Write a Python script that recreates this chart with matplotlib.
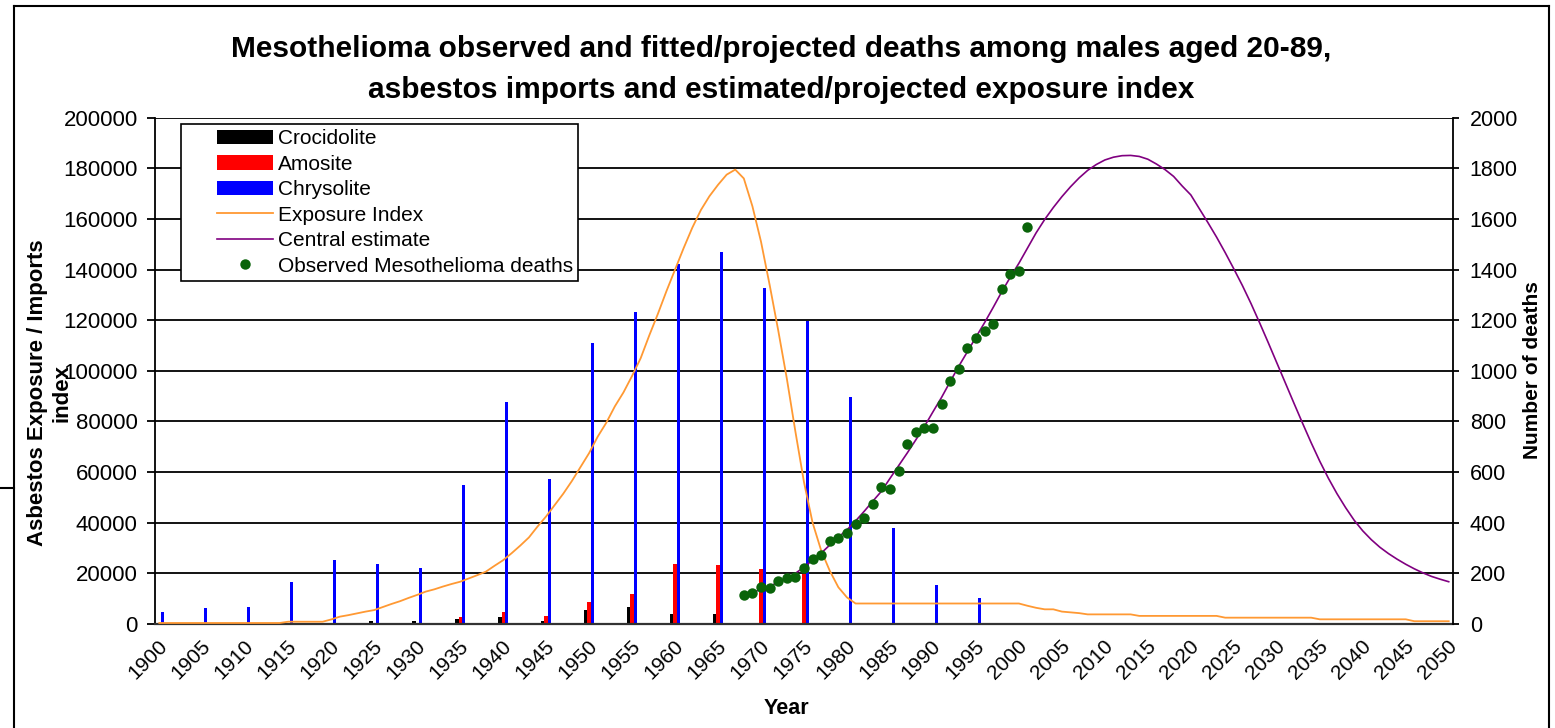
import numpy as np
import matplotlib
matplotlib.use("Agg")
import matplotlib.pyplot as plt
import matplotlib.transforms as mtransforms
from matplotlib.lines import Line2D
from matplotlib.patches import Patch
from matplotlib.legend_handler import HandlerPatch, HandlerLine2D

plt.rcParams["font.family"] = ["Liberation Sans", "DejaVu Sans"]

# ---- data ----
YEARS = list(range(1900, 2051))
BAR_YEARS = [1900, 1905, 1910, 1915, 1920, 1925, 1930, 1935, 1940, 1945,
             1950, 1955, 1960, 1965, 1970, 1975, 1980, 1985, 1990, 1995]
CROCIDOLITE = [0, 0, 0, 0, 500, 1200, 1200, 1800, 2600, 1300,
               5500, 6800, 4000, 3900, 500, 0, 0, 0, 0, 0]
AMOSITE = [0, 0, 0, 0, 500, 500, 500, 2600, 4600, 3300,
           8800, 12000, 23800, 23200, 21600, 19900, 0, 0, 0, 0]
CHRYSOLITE = [4600, 6200, 6800, 16400, 25100, 23800, 22300, 55000, 87700, 57200,
              111000, 123300, 142200, 147000, 132600, 119500, 89700, 38000, 15600, 10100]

EXPOSURE_INDEX = [
    # 1900-1919
    400, 400, 400, 400, 400, 400, 400, 400, 400, 400,
    400, 400, 400, 400, 400, 900, 900, 900, 900, 900,
    # 1920-1939
    1800, 2900, 3500, 4200, 4900, 5500, 6700, 7900, 9000, 10300,
    11500, 12800, 13700, 14800, 15800, 16700, 18000, 19300, 20700, 23000,
    # 1940-1959
    25200, 28000, 31000, 34200, 38500, 42500, 47000, 51500, 56500, 62000,
    67500, 74000, 79500, 86000, 91500, 98000, 105000, 114000, 122500, 131500,
    # 1960-1979
    140000, 148500, 156500, 163500, 169000, 173500, 177500, 179500, 176000, 165000,
    151000, 134000, 116000, 97000, 76000, 56000, 40000, 29000, 21000, 14500,
    # 1980-1999
    10500, 8100, 8100, 8100, 8100, 8100, 8100, 8100, 8100, 8100,
    8100, 8100, 8100, 8100, 8100, 8100, 8100, 8100, 8100, 8100,
    # 2000-2019
    8100, 7200, 6400, 5800, 5800, 4900, 4600, 4300, 3800, 3800,
    3800, 3800, 3800, 3800, 3200, 3200, 3200, 3200, 3200, 3200,
    # 2020-2039
    3200, 3200, 3200, 3200, 2500, 2500, 2500, 2500, 2500, 2500,
    2500, 2500, 2500, 2500, 2500, 1850, 1850, 1850, 1850, 1850,
    # 2040-2050
    1850, 1850, 1850, 1850, 1850, 1850, 1100, 1100, 1100, 1100, 1100,
]

CENTRAL_YEARS = list(range(1968, 2051))
CENTRAL_ESTIMATE = [
    112, 124, 137, 150, 164, 180, 200, 225, 252, 280,            # 1968-1977
    312, 343, 372, 407, 445, 485, 524, 575, 625, 675,            # 1978-1987
    727, 780, 838, 895, 957, 1018, 1075, 1133, 1190, 1250,       # 1988-1997
    1312, 1370, 1425, 1485, 1545, 1598, 1645, 1688, 1727, 1762,  # 1998-2007
    1792, 1815, 1833, 1844, 1850, 1851, 1847, 1836, 1817, 1795,  # 2008-2017
    1768, 1730, 1695, 1640, 1585, 1528, 1467, 1403, 1337, 1266,  # 2018-2027
    1190, 1112, 1032, 952, 872, 793, 716, 643, 576, 515,         # 2028-2037
    460, 410, 368, 333, 303, 278, 256, 236, 218, 202,            # 2038-2047
    188, 177, 167,                                               # 2048-2050
]

OBS_YEARS = list(range(1968, 2002))
OBSERVED = [115, 124, 148, 144, 170, 183, 187, 222, 255, 272,
            329, 341, 358, 394, 417, 476, 543, 532, 605, 710,
            757, 773, 775, 871, 960, 1006, 1091, 1128, 1159, 1187,
            1323, 1382, 1395, 1567]

ORANGE = "#ff9933"
PURPLE = "#800080"
GREEN = "#0a640a"

W, H = 1555, 728
fig = plt.figure(figsize=(W / 100, H / 100), dpi=100)
fig.patch.set_facecolor("white")
ax = fig.add_axes([155 / W, (H - 624) / H, 1298 / W, 506.3 / H])
ax2 = ax.twinx()

# ---- bars ----
bw = 0.38
bx = np.array(BAR_YEARS, dtype=float)
ax.bar(bx - bw, CROCIDOLITE, width=bw, color="black", zorder=2)
ax.bar(bx, AMOSITE, width=bw, color="#ff0000", zorder=2)
ax.bar(bx + bw, CHRYSOLITE, width=bw, color="#0000ff", zorder=2)

ax.plot(YEARS, EXPOSURE_INDEX, color=ORANGE, lw=1.3, zorder=3)
ax2.plot(CENTRAL_YEARS, CENTRAL_ESTIMATE, color=PURPLE, lw=1.2, zorder=3)
ax2.plot(OBS_YEARS, OBSERVED, "o", color=GREEN, ms=7.5, mew=0, zorder=4)

# ---- axes ----
ax.set_xlim(1899.5, 2050.5)
ax.set_ylim(0, 200000)
ax2.set_ylim(0, 2000)
lt = list(range(0, 200001, 20000))
rt = list(range(0, 2001, 200))
ax.set_yticks(lt)
ax.set_yticklabels([str(v) for v in lt])
ax2.set_yticks(rt)
ax2.set_yticklabels([str(v) for v in rt])
ax.yaxis.grid(True, color="black", lw=1.3)
ax.set_axisbelow(True)

xt = list(range(1900, 2051, 5))
ax.set_xticks(xt)
ax.set_xticklabels([str(v) for v in xt], rotation=45, ha="right",
                   rotation_mode="anchor", va="center")
ax.tick_params(axis="x", length=0, pad=14, labelsize=15)
shift = mtransforms.ScaledTranslation(5 / 100, 0, fig.dpi_scale_trans)
for lab in ax.get_xticklabels():
    lab.set_transform(lab.get_transform() + shift)
ax.tick_params(axis="y", length=5.5, width=1.3, pad=7, labelsize=16, colors="black")
ax2.tick_params(axis="y", length=4, width=1.3, pad=8, labelsize=15.5)

for s in ("top", "right"):
    ax.spines[s].set_visible(False)
for s in ("top", "left", "bottom"):
    ax2.spines[s].set_visible(False)
ax.spines["left"].set_linewidth(1.3)
ax.spines["bottom"].set_linewidth(1.6)
ax.spines["bottom"].set_color("#333333")
ax2.spines["right"].set_linewidth(1.3)

# ---- legend ----
handles = [
    Patch(facecolor="black", edgecolor="none"),
    Patch(facecolor="#ff0000", edgecolor="none"),
    Patch(facecolor="#0000ff", edgecolor="none"),
    Line2D([], [], color=ORANGE, lw=1.3),
    Line2D([], [], color=PURPLE, lw=1.2),
    Line2D([], [], ls="none", marker="o", color=GREEN, ms=7.5, mew=0),
]
labels = ["Crocidolite", "Amosite", "Chrysolite", "Exposure Index",
          "Central estimate", "Observed Mesothelioma deaths"]
leg = ax2.legend(handles, labels, loc="upper left",
                 bbox_to_anchor=(0.0198, 0.9875), borderaxespad=0,
                 fontsize=15, handlelength=4.2, handletextpad=0.2,
                 labelspacing=0.31, borderpad=0.25, fancybox=False,
                 framealpha=1, edgecolor="black",
                 handler_map={Patch: HandlerPatch(xpad=1.5),
                              Line2D: HandlerLine2D(xpad=1.5, numpoints=1)})
leg.get_frame().set_linewidth(1.2)

# ---- texts ----
fig.text(781 / W, 1 - 49 / H,
         "Mesothelioma observed and fitted/projected deaths among males aged 20-89,",
         ha="center", va="center", fontsize=21.5, fontweight="bold")
fig.text(781 / W, 1 - 90 / H,
         "asbestos imports and estimated/projected exposure index",
         ha="center", va="center", fontsize=21.5, fontweight="bold")
fig.text(38 / W, 1 - 393 / H, "Asbestos Exposure / Imports", rotation=90,
         ha="center", va="center", fontsize=16, fontweight="bold")
fig.text(62 / W, 1 - 393 / H, "index", rotation=90,
         ha="center", va="center", fontsize=16, fontweight="bold")
fig.text(1533 / W, 1 - 370 / H, "Number of deaths", rotation=90,
         ha="center", va="center", fontsize=15, fontweight="bold")
fig.text(786 / W, 1 - 708 / H, "Year", ha="center", va="center",
         fontsize=15.5, fontweight="bold")

# ---- outer frame ----
def fline(xs, ys):
    fig.add_artist(Line2D([x / W for x in xs], [1 - y / H for y in ys],
                          transform=fig.transFigure, color="black", lw=1.5))

fline([14, 14], [6, H])
fline([14, 1549], [6, 6])
fline([1549, 1549], [6, H])
fline([0, 14], [488, 488])

fig.savefig("out.png", dpi=100, facecolor="white")
